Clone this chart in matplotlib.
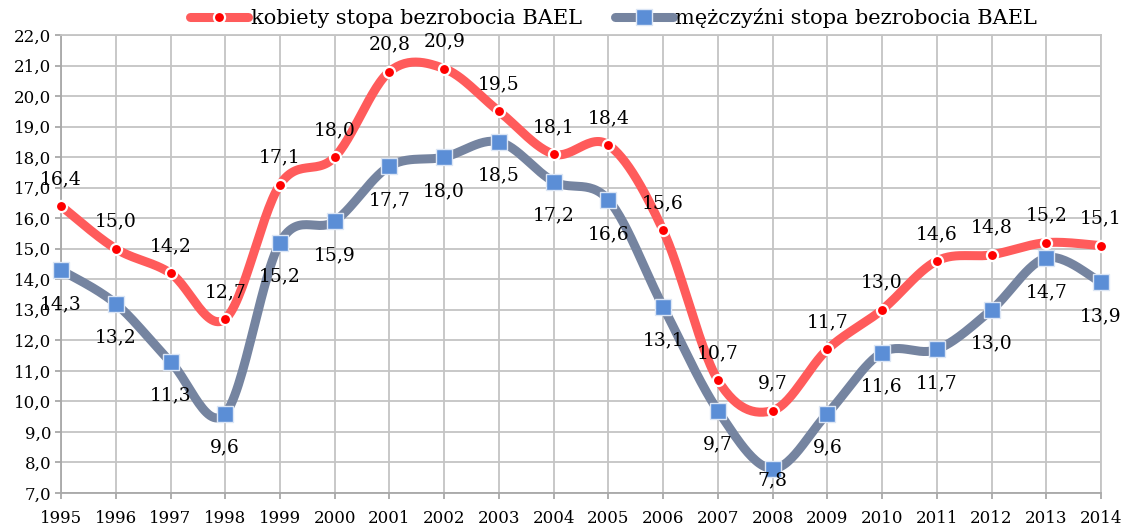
import numpy as np
import matplotlib
matplotlib.use("Agg")
import matplotlib.pyplot as plt
from matplotlib.lines import Line2D

plt.rcParams['font.family'] = ['DejaVu Serif']

years = list(range(1995, 2015))
kobiety = [16.4, 15.0, 14.2, 12.7, 17.1, 18.0, 20.8, 20.9, 19.5, 18.1,
           18.4, 15.6, 10.7, 9.7, 11.7, 13.0, 14.6, 14.8, 15.2, 15.1]
mezczyzni = [14.3, 13.2, 11.3, 9.6, 15.2, 15.9, 17.7, 18.0, 18.5, 17.2,
             16.6, 13.1, 9.7, 7.8, 9.6, 11.6, 11.7, 13.0, 14.7, 13.9]
nazwy = ["kobiety stopa bezrobocia BAEL", "mężczyźni stopa bezrobocia BAEL"]

RED = "#FF5B5B"
GRAY = "#7584A0"
BLUE = "#5B8ED6"


def smooth(x, y, n=30):
    # Catmull-Rom style bezier, like Excel's "smoothed line"
    x = np.asarray(x, float)
    y = np.asarray(y, float)
    xs, ys = [], []
    t = np.linspace(0, 1, n)
    for i in range(len(x) - 1):
        p0 = np.array([x[max(i - 1, 0)], y[max(i - 1, 0)]])
        p1 = np.array([x[i], y[i]])
        p2 = np.array([x[i + 1], y[i + 1]])
        p3 = np.array([x[min(i + 2, len(x) - 1)], y[min(i + 2, len(x) - 1)]])
        c1 = p1 + (p2 - p0) / 6.0
        c2 = p2 - (p3 - p1) / 6.0
        pts = ((1 - t) ** 3)[:, None] * p1 + (3 * (1 - t) ** 2 * t)[:, None] * c1 \
            + (3 * (1 - t) * t ** 2)[:, None] * c2 + (t ** 3)[:, None] * p2
        xs.extend(pts[:, 0])
        ys.extend(pts[:, 1])
    return xs, ys


fig = plt.figure(figsize=(11.26, 5.30), dpi=100)
ax = fig.add_axes([0.0542, 0.0698, 0.9236, 0.8642])

ax.set_xlim(1995, 2014)
ax.set_ylim(7, 22)
ax.set_xticks(years)
ax.set_yticks(np.arange(7, 22.5, 1))
ax.set_yticklabels([("%.1f" % v).replace(".", ",") for v in np.arange(7, 22.5, 1)])
ax.grid(True, color="#C4C4C4", lw=1.3)
ax.set_axisbelow(True)
for s in ax.spines.values():
    s.set_color("#C4C4C4")
    s.set_linewidth(1.3)
ax.spines['left'].set_color("#A8A8A8")
ax.spines['bottom'].set_color("#A8A8A8")
ax.tick_params(axis='both', colors="#A8A8A8", labelcolor="black", length=4, width=1.3,
               labelsize=12)
ax.tick_params(axis='x', pad=8)
ax.tick_params(axis='y', pad=3)

sx, sy = smooth(years, kobiety)
ax.plot(sx, sy, color=RED, lw=6.5, solid_capstyle='round', zorder=3, clip_on=False)
ax.plot(years, kobiety, 'o', ms=8, mfc="#FF0000", mec="white", mew=1.6, zorder=5,
        clip_on=False)

sx, sy = smooth(years, mezczyzni)
ax.plot(sx, sy, color=GRAY, lw=6.5, solid_capstyle='round', zorder=2, clip_on=False)
ax.plot(years, mezczyzni, 's', ms=11, mfc=BLUE, mec="#DCE6F5", mew=1.0, zorder=4,
        clip_on=False)

px = 458.0 / 15  # pixels per unit
for x, v in zip(years, kobiety):
    ax.text(x, v + 27 / px, ("%.1f" % v).replace(".", ","), ha='center', va='center',
            fontsize=13.5, zorder=6)
for x, v in zip(years, mezczyzni):
    yl = max(v - 34 / px, 7 + 13 / px)
    ax.text(x, yl, ("%.1f" % v).replace(".", ","), ha='center', va='center',
            fontsize=13.5, zorder=6)

handles = [
    Line2D([], [], color=RED, lw=6.5, marker='o', ms=8, mfc="#FF0000", mec="white", mew=1.6,
           solid_capstyle='round'),
    Line2D([], [], color=GRAY, lw=6.5, marker='s', ms=11, mfc=BLUE, mec="#DCE6F5", mew=1.0,
           solid_capstyle='round'),
]
fig.legend(handles, nazwy, loc='center', bbox_to_anchor=(0.545, 0.966), ncol=2,
           frameon=False, fontsize=15, handlelength=2.8, handletextpad=0.1,
           columnspacing=1.6)

fig.savefig("out.png", dpi=100)
